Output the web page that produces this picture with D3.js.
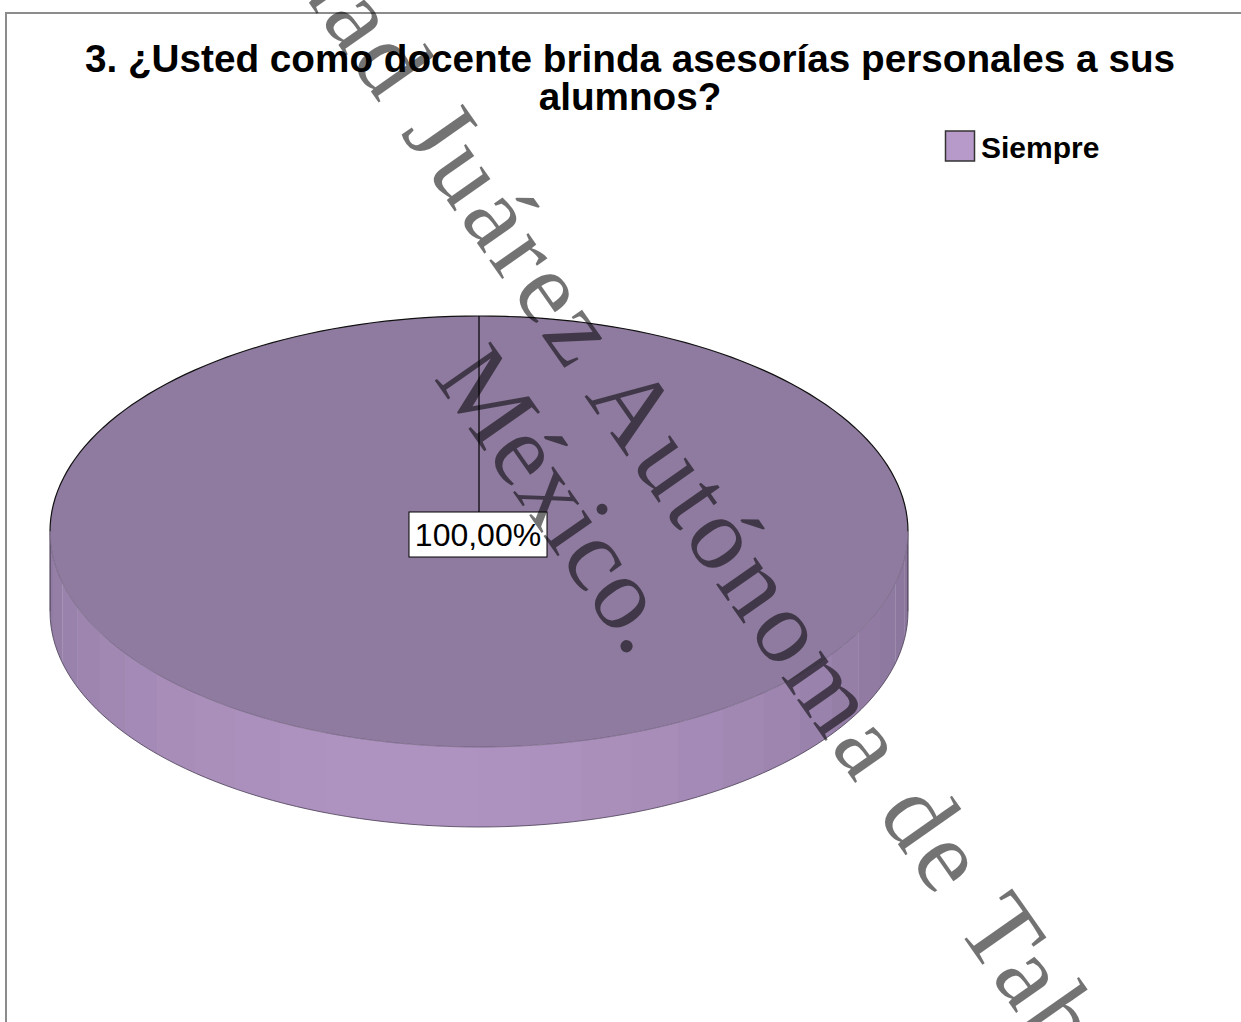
<!DOCTYPE html>
<html>
<head>
<meta charset="utf-8">
<script src="https://cdn.jsdelivr.net/npm/d3@7"></script>
<style>
  html, body { margin: 0; padding: 0; background: #fff; }
  svg { display: block; }
</style>
</head>
<body>
<svg id="chart" width="1241" height="1022"></svg>
<script>
// ---- data ----
const categories = ["Siempre"];
const values = [100];
const valueLabels = ["100,00%"];
const titleLines = ["3. ¿Usted como docente brinda asesorías personales a sus", "alumnos?"];
const watermarkHead = "Universidad\u00a0";
const watermarkLine1 = "Juárez Autónoma de Tabasco";
const watermarkLine2 = "México.";
const sliceColors = ["#8f7b9f"];
const legendColors = ["#b89aca"];

const svg = d3.select("#chart");
const W = 1241, H = 1022;

// border
svg.append("rect").attr("x", 6).attr("y", 13).attr("width", W + 20).attr("height", H + 20)
  .attr("fill", "none").attr("stroke", "#8c8c8c").attr("stroke-width", 2);

// title
const title = svg.append("text").attr("text-anchor", "middle")
  .attr("font-family", "Liberation Sans, Arial, sans-serif").attr("font-weight", "bold")
  .attr("font-size", 38.7).attr("fill", "#000");
titleLines.forEach((t, i) => {
  title.append("tspan").attr("x", 630).attr("y", 72 + i * 38).text(t);
});

// pie geometry
const cx = 479, cy = 531.5, rx = 429, ry = 215.5, depth = 80;
const pie = d3.pie().sort(null).value(d => d)(values);
const px = a => cx + rx * Math.sin(a);
const py = a => cy - ry * Math.cos(a);

const shade = d3.scaleLinear()
  .domain([-1, 0.2, 1])
  .range(["#7a678f", "#8f7aa1", "#ae92bf"])
  .interpolate(d3.interpolateRgb);

const g = svg.append("g");
// side walls (front half only: angles PI/2 .. 3PI/2)
pie.forEach((arc, i) => {
  const a0 = Math.max(arc.startAngle, Math.PI / 2);
  const a1 = Math.min(arc.endAngle, 3 * Math.PI / 2);
  if (a1 <= a0) return;
  const n = 26;
  const step = (a1 - a0) / n;
  for (let k = 0; k < n; k++) {
    const s = a0 + k * step, e = s + step + 0.002;
    const pts = [];
    const m = 6;
    for (let j = 0; j <= m; j++) { const a = s + (e - s) * j / m; pts.push([px(a), py(a)]); }
    for (let j = m; j >= 0; j--) { const a = s + (e - s) * j / m; pts.push([px(a), py(a) + depth]); }
    const mid = (s + e) / 2;
    const t = Math.cos(mid - (Math.PI + 0.18));
    g.append("path").attr("d", "M" + pts.map(p => p.join(",")).join("L") + "Z")
      .attr("fill", shade(t)).attr("stroke", "none");
  }
  const bot = d3.range(0, 101).map(j => { const a = a0 + (a1 - a0) * j / 100; return [px(a), py(a) + depth]; });
  g.append("path").attr("d", d3.line()(bot)).attr("fill", "none")
    .attr("stroke", "#4a3f55").attr("stroke-width", 1).attr("stroke-opacity", 0.8);
  g.append("line").attr("x1", px(a0)).attr("y1", py(a0)).attr("x2", px(a0)).attr("y2", py(a0) + depth)
    .attr("stroke", "#3a3045").attr("stroke-width", 1);
  g.append("line").attr("x1", px(a1)).attr("y1", py(a1)).attr("x2", px(a1)).attr("y2", py(a1) + depth)
    .attr("stroke", "#3a3045").attr("stroke-width", 1);
});
// top faces
pie.forEach((arc, i) => {
  const n = 200;
  const pts = d3.range(0, n + 1).map(j => { const a = arc.startAngle + (arc.endAngle - arc.startAngle) * j / n; return [px(a), py(a)]; });
  const full = (arc.endAngle - arc.startAngle) >= 2 * Math.PI - 1e-6;
  const d = full ? d3.line()(pts) + "Z" : "M" + cx + "," + cy + "L" + pts.map(p => p.join(",")).join("L") + "Z";
  g.append("path").attr("d", d).attr("fill", sliceColors[i]).attr("stroke", "none");
  const back = d3.range(0, 101).map(j => { const a = -Math.PI / 2 + Math.PI * j / 100; return [px(a), py(a)]; });
  g.append("path").attr("d", d3.line()(back)).attr("fill", "none").attr("stroke", "#111").attr("stroke-width", 1.2);
  const front = d3.range(0, 101).map(j => { const a = Math.PI / 2 + Math.PI * j / 100; return [px(a), py(a)]; });
  g.append("path").attr("d", d3.line()(front)).attr("fill", "none").attr("stroke", "#5d4f6b").attr("stroke-width", 0.8).attr("stroke-opacity", 0.7);
});

// label with leader line
pie.forEach((arc, i) => {
  const la = arc.startAngle;
  const lx = px(la), ly = py(la);
  const bw = 138, bh = 45, bx = lx - 70, by = 512;
  svg.append("line").attr("x1", lx).attr("y1", ly).attr("x2", lx).attr("y2", by)
    .attr("stroke", "#000").attr("stroke-width", 1.2);
  svg.append("rect").attr("x", bx).attr("y", by).attr("width", bw).attr("height", bh)
    .attr("fill", "#fff").attr("stroke", "#000").attr("stroke-width", 1);
  svg.append("text").attr("x", bx + bw / 2).attr("y", by + 34).attr("text-anchor", "middle")
    .attr("font-family", "Liberation Sans, Arial, sans-serif").attr("font-size", 32)
    .attr("fill", "#000").text(valueLabels[i]);
});

// legend
categories.forEach((c, i) => {
  const ly = 131 + i * 36;
  svg.append("rect").attr("x", 945.5).attr("y", ly).attr("width", 29).attr("height", 30)
    .attr("fill", legendColors[i]).attr("stroke", "#333").attr("stroke-width", 1.5);
  svg.append("text").attr("x", 981).attr("y", ly + 27)
    .attr("font-family", "Liberation Sans, Arial, sans-serif").attr("font-weight", "bold")
    .attr("font-size", 30).attr("fill", "#000").text(c);
});

// watermark
const ang = 55;
const wm = svg.append("g").attr("fill", "#000").attr("fill-opacity", 0.55)
  .attr("font-family", "Liberation Serif, Times New Roman, serif").attr("font-size", 104);
wm.append("text").attr("transform", `translate(400,133) rotate(${ang})`).attr("letter-spacing", 5)
  .attr("text-anchor", "end").text(watermarkHead);
wm.append("text").attr("transform", `translate(400,133) rotate(${ang})`).attr("letter-spacing", 5)
  .text(watermarkLine1);
wm.append("text").attr("transform", `translate(433,378) rotate(${ang})`).text(watermarkLine2);
</script>
</body>
</html>
